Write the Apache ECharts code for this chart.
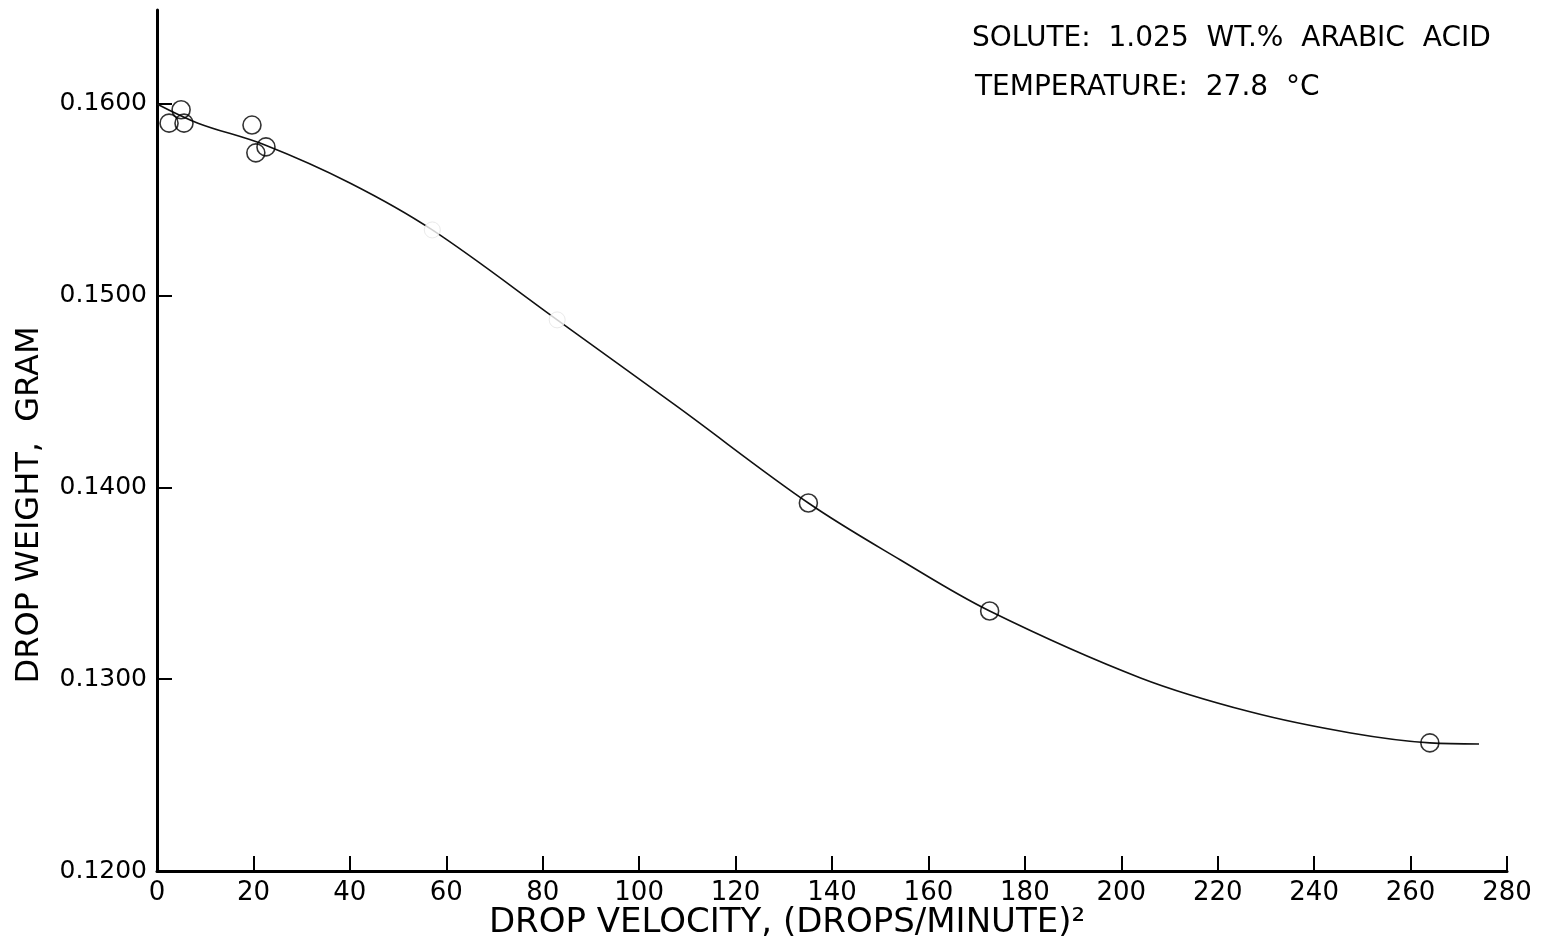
<!DOCTYPE html>
<html>
<head>
<meta charset="utf-8">
<script src="https://cdn.jsdelivr.net/npm/echarts@6/dist/echarts.min.js"></script>
<style>
html,body{margin:0;padding:0;background:#fff;}
#c{width:1551px;height:945px;}
</style>
</head>
<body>
<div id="c"></div>
<script>
// Measured drop-weight data points (x: (drops/minute)^2, y: gram)
const pointsX = [2.5, 5.0, 5.6, 19.7, 20.5, 22.6, 135.1, 172.7, 264.0];
const pointsY = [0.1590, 0.1597, 0.1590, 0.1589, 0.15745, 0.15776, 0.13919, 0.13356, 0.12668];
// Faint (barely visible) points on the curve
const faintX = [57.1, 83.0];
const faintY = [0.15343, 0.14874];
// Hand-drawn smooth fitted curve
const curveX = [0, 8.5, 22.4, 40.0, 57.1, 83.0, 108.0, 135.1, 154.2, 172.7, 204.0, 226.9, 247.6, 264.0, 274.2];
const curveY = [0.1600, 0.1590, 0.15786, 0.15588, 0.15343, 0.14874, 0.14420, 0.13919, 0.13622, 0.13356, 0.13007, 0.12829, 0.12720, 0.12668, 0.12662];
// Axis ticks
const xTicks = [0, 20, 40, 60, 80, 100, 120, 140, 160, 180, 200, 220, 240, 260, 280];
const yTicks = [0.12, 0.13, 0.14, 0.15, 0.16];
const xTitle = 'DROP VELOCITY, (DROPS/MINUTE)²';
const yTitle = 'DROP WEIGHT,  GRAM';
const note1 = 'SOLUTE:  1.025  WT.%  ARABIC  ACID';
const note2 = 'TEMPERATURE:  27.8  °C';

const FONT = 'DejaVu Sans';
const zip = (a, b) => a.map((v, i) => [v, b[i]]);

const chart = echarts.init(document.getElementById('c'), null, {renderer: 'canvas'});
chart.setOption({
  backgroundColor: '#fff',
  animation: false,
  grid: {left: 157, right: 44, top: 10, bottom: 74, containLabel: false},
  xAxis: {
    type: 'value', min: 0, max: 280, interval: 20,
    axisLine: {show: true, onZero: false, lineStyle: {color: '#000', width: 3}},
    axisTick: {show: true, inside: true, length: 15, lineStyle: {color: '#000', width: 2}},
    axisLabel: {color: '#000', fontFamily: FONT, fontSize: 26, margin: 9,
      customValues: xTicks, formatter: v => String(v)},
    splitLine: {show: false}
  },
  yAxis: {
    type: 'value', min: 0.12, max: 0.1649,
    axisLine: {show: true, onZero: false, lineStyle: {color: '#000', width: 3}},
    axisTick: {show: true, inside: true, length: 15, customValues: yTicks, lineStyle: {color: '#000', width: 2}},
    axisLabel: {color: '#000', fontFamily: FONT, fontSize: 25, margin: 10,
      customValues: yTicks, formatter: v => v.toFixed(4)},
    splitLine: {show: false}
  },
  graphic: [
    {type: 'text', x: 787, y: 923, style: {text: xTitle, font: '34px "DejaVu Sans"', fill: '#000', align: 'center', verticalAlign: 'middle'}},
    {type: 'text', x: 30, y: 505, rotation: Math.PI / 2, style: {text: yTitle, font: '32px "DejaVu Sans"', fill: '#000', align: 'center', verticalAlign: 'middle'}},
    {type: 'text', x: 972, y: 39, style: {text: note1, font: '28px "DejaVu Sans"', fill: '#000', align: 'left', verticalAlign: 'middle'}},
    {type: 'text', x: 975, y: 88, style: {text: note2, font: '28px "DejaVu Sans"', fill: '#000', align: 'left', verticalAlign: 'middle'}}
  ],
  series: [
    {
      type: 'line', data: zip(curveX, curveY), smooth: 0.35, showSymbol: false,
      lineStyle: {color: '#111', width: 1.6}, silent: true, z: 2
    },
    {
      type: 'scatter', data: zip(faintX, faintY), symbol: 'circle', symbolSize: 16,
      itemStyle: {color: '#fff', borderColor: '#e4e4e4', borderWidth: 1}, z: 3
    },
    {
      type: 'scatter', data: zip(pointsX, pointsY), symbol: 'circle', symbolSize: 18,
      itemStyle: {color: 'rgba(255,255,255,0)', borderColor: '#000', borderWidth: 1.6}, z: 4
    }
  ]
});
</script>
</body>
</html>
